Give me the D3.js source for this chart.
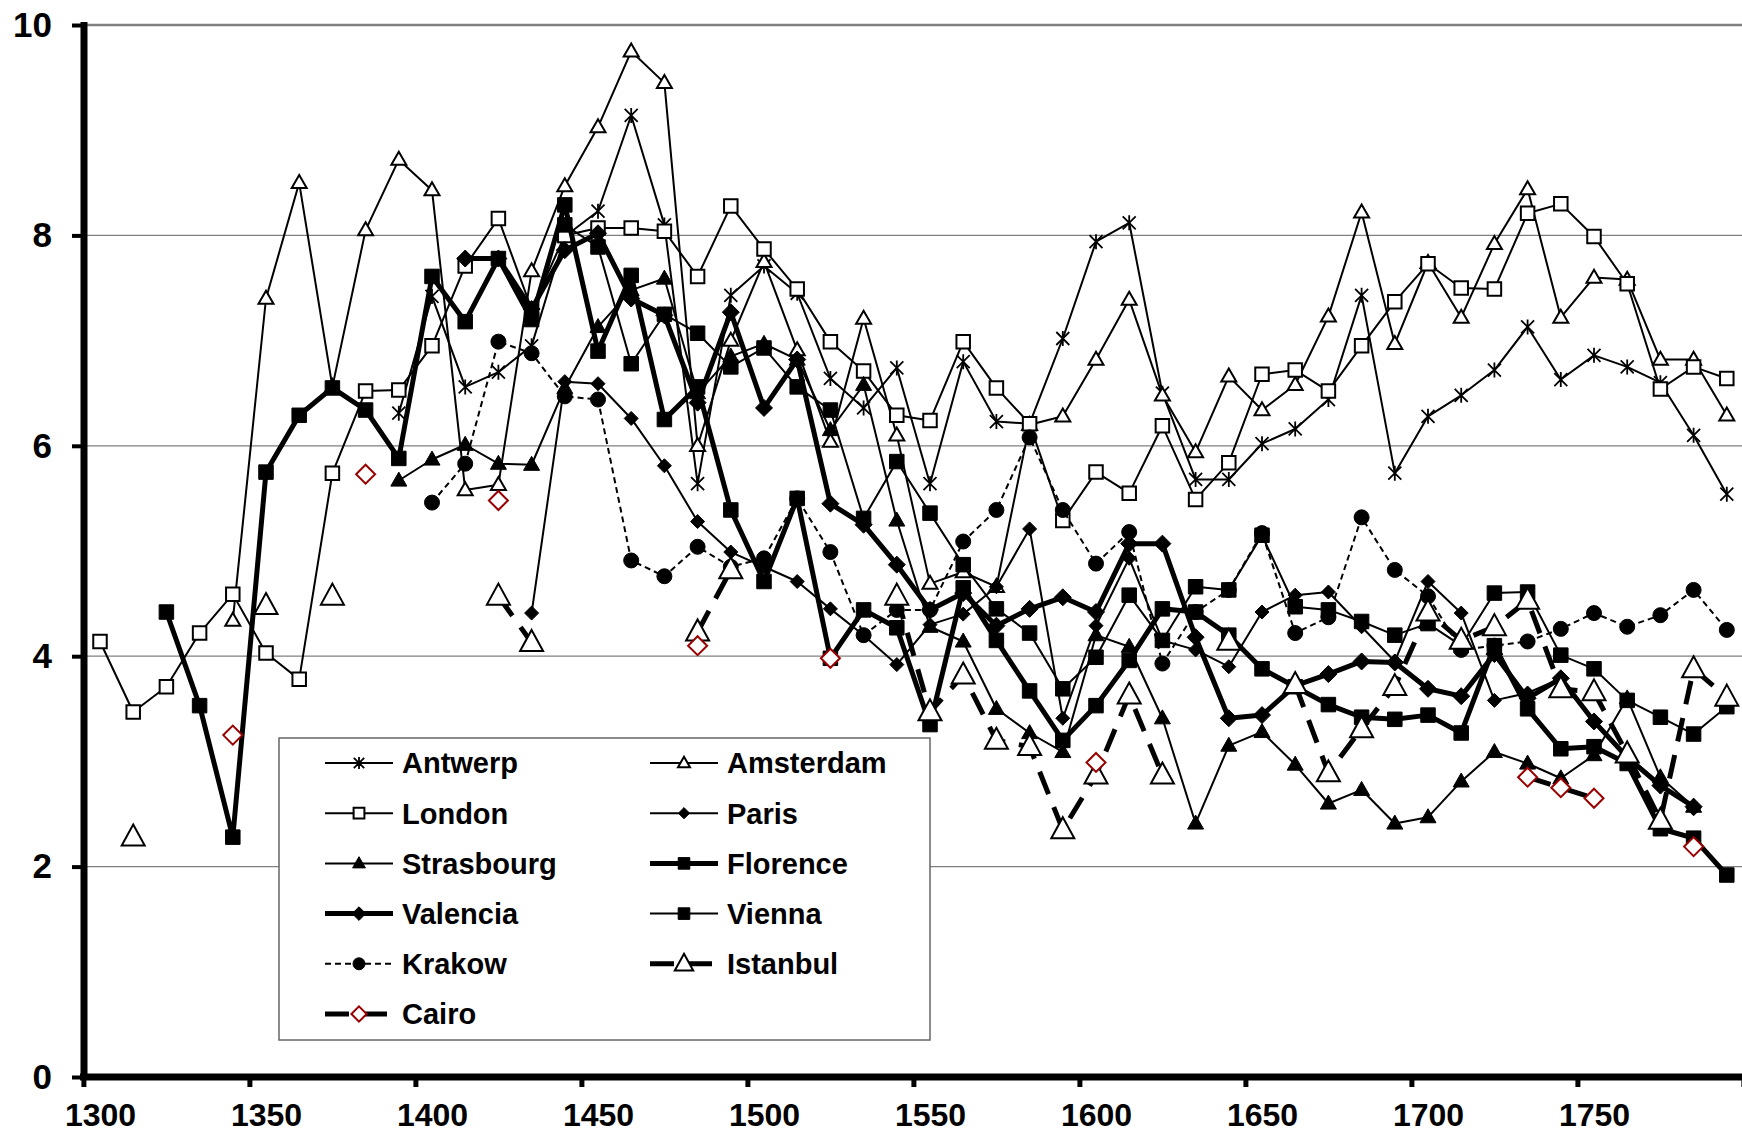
<!DOCTYPE html>
<html><head><meta charset="utf-8">
<script src="https://cdn.jsdelivr.net/npm/d3@7"></script>
<style>body{margin:0;background:#fff}svg{display:block}</style>
</head><body>
<svg id="chart" width="1742" height="1132"></svg>
<script>
// ---------- DATA ----------
const years = [1305,1315,1325,1335,1345,1355,1365,1375,1385,1395,1405,1415,1425,1435,1445,1455,1465,1475,1485,1495,
  1505,1515,1525,1535,1545,1555,1565,1575,1585,1595,1605,1615,1625,1635,1645,1655,1665,1675,1685,1695,
  1705,1715,1725,1735,1745,1755,1765,1775,1785,1795];
const xTicks = [1300,1350,1400,1450,1500,1550,1600,1650,1700,1750,1800];
const xTickLabels = ["1300","1350","1400","1450","1500","1550","1600","1650","1700","1750",""];
const yTicks = [0,2,4,6,8,10];
const N = null;

const antwerp = [N,N,N,N,N,N,N,N,N,6.31, 7.42,6.56,6.70,6.95,7.99,8.23,9.14,8.10,5.64,7.43,
  7.71,7.45,6.64,6.36,6.74,5.64,6.80,6.23,6.21,7.02, 7.94,8.12,6.50,5.68,5.68,6.02,6.16,6.44,7.43,5.74,
  6.28,6.48,6.72,7.13,6.63,6.86,6.75,6.60,6.10,5.54];
const amsterdam = [N,N,N,N,4.34,7.40,8.50,6.56,8.05,8.72, 8.43,5.58,5.63,7.66,8.47,9.03,9.75,9.45,6.00,7.00,
  7.75,6.91,6.04,7.21,6.10,4.69,4.80,4.66,6.20,6.28, 6.82,7.39,6.48,5.94,6.66,6.34,6.58,7.23,8.22,6.97,
  7.74,7.22,7.92,8.44,7.22,7.60,7.58,6.82,6.82,6.29];
const london = [4.14,3.47,3.71,4.22,4.59,4.03,3.78,5.74,6.52,6.53, 6.95,7.71,8.16,7.30,8.00,8.07,8.07,8.04,7.61,8.28,
  7.87,7.49,6.99,6.71,6.29,6.24,6.99,6.55,6.21,5.29, 5.75,5.55,6.19,5.49,5.84,6.68,6.72,6.52,6.95,7.37,
  7.73,7.50,7.49,8.21,8.30,7.99,7.54,6.54,6.75,6.64];
const paris = [N,N,N,N,N,N,N,N,N,N, N,N,N,4.41,6.61,6.59,6.26,5.81,5.28,4.99,
  4.85,4.71,4.45,4.20,3.92,4.30,4.40,4.66,5.21,3.41, 4.29,4.93,4.15,4.06,3.90,4.42,4.58,4.61,4.28,3.95,
  4.71,4.41,3.58,3.65,3.79,3.38,3.05,2.79,2.55,N];
const strasbourg = [N,N,N,N,N,N,N,N,N,5.67, 5.87,6.01,5.83,5.82,6.55,7.13,7.48,7.59,6.50,6.85,
  6.97,6.82,6.15,6.58,5.29,4.28,4.14,3.50,3.27,3.09, 4.20,4.09,3.41,2.41,3.15,3.28,2.97,2.60,2.73,2.41,
  2.47,2.81,3.09,2.98,2.84,3.06,3.60,2.85,2.57,N];
const florence = [N,N,4.42,3.53,2.28,5.75,6.29,6.55,6.34,5.88, 7.61,7.18,7.78,7.20,8.29,6.90,7.62,6.25,6.56,5.39,
  4.71,5.50,3.98,4.44,4.27,3.35,4.65,4.15,3.67,3.20, 3.53,3.96,4.45,4.42,4.20,3.88,3.71,3.54,3.42,3.40,
  3.44,3.27,4.10,3.50,3.12,3.14,2.98,2.36,2.27,1.92];
const valencia = [N,N,N,N,N,N,N,N,N,N, N,7.78,7.78,7.30,7.86,8.02,7.40,7.24,6.41,7.27,
  6.36,6.82,5.45,5.25,4.87,4.44,4.60,4.29,4.45,4.56, 4.42,5.07,5.07,4.18,3.41,3.44,3.72,3.83,3.95,3.94,
  3.69,3.62,4.02,3.60,3.79,3.38,3.04,2.77,2.57,N];
const vienna = [N,N,N,N,N,N,N,N,N,N, N,N,N,N,8.10,7.89,6.78,7.25,7.07,6.75,
  6.93,6.56,6.34,5.31,5.85,5.36,4.87,4.45,4.22,3.69, 3.99,4.58,4.15,4.66,4.63,5.15,4.47,4.44,4.33,4.20,
  4.31,4.10,4.60,4.61,4.01,3.88,3.58,3.42,3.26,3.52];
const krakow = [N,N,N,N,N,N,N,N,N,N, 5.46,5.83,6.99,6.88,6.47,6.44,4.91,4.76,5.04,4.85,
  4.93,5.50,4.99,4.20,4.44,4.44,5.09,5.39,6.08,5.39, 4.88,5.18,3.93,4.42,4.63,5.17,4.22,4.37,5.32,4.82,
  4.57,4.06,4.10,4.14,4.26,4.41,4.28,4.39,4.63,4.25];
const istanbul = [N,2.28,N,N,N,4.48,N,4.57,N,N, N,N,4.57,4.13,N,N,N,N,4.23,4.82,
  N,N,N,N,4.57,3.47,3.82,3.20,3.14,2.35, 2.87,3.63,2.87,N,4.14,N,3.73,2.89,3.31,3.71,
  4.42,4.15,4.28,4.53,3.69,3.66,3.07,2.44,3.88,3.61];
const cairo = [N,N,N,N,3.25,N,N,N,5.73,N, N,N,5.48,N,N,N,N,N,4.10,N,
  N,N,3.98,N,N,N,N,N,N,N, 2.99,N,N,N,N,N,N,N,N,N,
  N,N,N,2.85,2.75,2.65,N,N,2.19,N];

// ---------- MARKERS ----------
const sq = s => `M${-s/2},${-s/2}h${s}v${s}h${-s}Z`;
const dia = w => `M0,${-w/2}L${w/2},0L0,${w/2}L${-w/2},0Z`;
const tri = (w,h) => `M0,${-h*0.6}L${w/2},${h*0.4}L${-w/2},${h*0.4}Z`;
const circ = r => `M${r},0A${r},${r} 0 1,1 ${-r},0A${r},${r} 0 1,1 ${r},0Z`;
const star = s => `M${-s},${-s}L${s},${s}M${-s},${s}L${s},${-s}M0,${-s-1}L0,${s+1}`;

const series = [
  {name:"Antwerp",   data:antwerp,   w:2,   dash:null,    m:star(6.5),   fill:"none",  stroke:"#000", mw:1.8},
  {name:"Amsterdam", data:amsterdam, w:2,   dash:null,    m:tri(15,13),  fill:"#fff",  stroke:"#000", mw:2},
  {name:"London",    data:london,    w:2,   dash:null,    m:sq(13.5),    fill:"#fff",  stroke:"#000", mw:2},
  {name:"Paris",     data:paris,     w:2,   dash:null,    m:dia(14),     fill:"#000",  stroke:"#000", mw:1},
  {name:"Strasbourg",data:strasbourg,w:2,   dash:null,    m:tri(16,14),  fill:"#000",  stroke:"#000", mw:1},
  {name:"Florence",  data:florence,  w:5,   dash:null,    m:sq(14.5),    fill:"#000",  stroke:"#000", mw:1},
  {name:"Valencia",  data:valencia,  w:5,   dash:null,    m:dia(17),     fill:"#000",  stroke:"#000", mw:1},
  {name:"Vienna",    data:vienna,    w:2,   dash:null,    m:sq(14.5),    fill:"#000",  stroke:"#000", mw:1},
  {name:"Krakow",    data:krakow,    w:2,   dash:"6,4",   m:circ(7.5),   fill:"#000",  stroke:"#000", mw:1},
  {name:"Istanbul",  data:istanbul,  w:5,   dash:"24,14", m:tri(23,21),  fill:"#fff",  stroke:"#000", mw:2},
  {name:"Cairo",     data:cairo,     w:5,   dash:"24,14", m:dia(19),     fill:"#fff",  stroke:"#990000", mw:2}
];

// ---------- SCALES ----------
const svg = d3.select("#chart");
const x = d3.scaleLinear().domain([1300,1800]).range([83.4,1743.4]);
const y = d3.scaleLinear().domain([0,10]).range([1077,25]);
const FONT = "'Liberation Sans', Arial, sans-serif";

// gridlines
svg.append("g").selectAll("line").data([2,4,6,8,10]).join("line")
  .attr("x1",84).attr("x2",1742).attr("y1",d=>y(d)).attr("y2",d=>y(d))
  .attr("stroke","#808080").attr("stroke-width",d=>d===10?2.5:1.3);

// series
const line = d3.line().defined(d=>d.v!=null).x(d=>x(d.yr)).y(d=>y(d.v));
const plot = svg.append("g");
series.forEach(s=>{
  const pts = years.map((yr,i)=>({yr, v:s.data[i]}));
  const g = plot.append("g");
  g.append("path").datum(pts).attr("d",line).attr("fill","none")
    .attr("stroke","#000").attr("stroke-width",s.w)
    .attr("stroke-dasharray",s.dash).attr("stroke-linejoin","round");
  g.selectAll("path.m").data(pts.filter(d=>d.v!=null)).join("path").attr("class","m")
    .attr("transform",d=>`translate(${x(d.yr)},${y(d.v)})`)
    .attr("d",s.m).attr("fill",s.fill).attr("stroke",s.stroke).attr("stroke-width",s.mw);
});

// axes
const yAxis = d3.axisLeft(y).tickValues(yTicks).tickSize(12).tickSizeOuter(0).tickPadding(20);
const gy = svg.append("g").attr("transform","translate(84,0)").call(yAxis);
gy.select(".domain").remove();
gy.selectAll(".tick line").attr("stroke","#000").attr("stroke-width",4);
gy.selectAll(".tick text").attr("font-family",FONT).attr("font-weight","bold")
  .attr("font-size",35).attr("fill","#000");

const xAxis = d3.axisBottom(x).tickValues(xTicks).tickSize(10).tickSizeOuter(0)
  .tickFormat((d,i)=>xTickLabels[i]);
const gx = svg.append("g").attr("transform","translate(0,1077)").call(xAxis);
gx.select(".domain").remove();
gx.selectAll(".tick line").attr("stroke","#000").attr("stroke-width",5);
gx.selectAll(".tick text").attr("font-family",FONT).attr("font-weight","bold")
  .attr("font-size",32).attr("fill","#000").attr("x",16.6).attr("y",49).attr("dy",0);

svg.append("line").attr("x1",84).attr("x2",84).attr("y1",22).attr("y2",1080)
  .attr("stroke","#000").attr("stroke-width",7);
svg.append("line").attr("x1",80).attr("x2",1742).attr("y1",1077).attr("y2",1077)
  .attr("stroke","#000").attr("stroke-width",7);

// legend
const leg = svg.append("g");
leg.append("rect").attr("x",279).attr("y",738).attr("width",651).attr("height",302)
  .attr("fill","#fff").attr("stroke","#666").attr("stroke-width",1.5);
series.forEach((s,i)=>{
  const col = i%2, row = Math.floor(i/2);
  const lx = col===0 ? 325 : 650, cy = 763 + row*50.2;
  const g = leg.append("g");
  g.append("line").attr("x1",lx).attr("x2",lx+68).attr("y1",cy).attr("y2",cy)
    .attr("stroke","#000").attr("stroke-width",s.w).attr("stroke-dasharray",s.dash);
  g.append("path").attr("transform",`translate(${lx+34},${cy}) scale(0.8)`)
    .attr("d",s.m).attr("fill",s.fill).attr("stroke",s.stroke).attr("stroke-width",s.mw/0.8);
  g.append("text").attr("x",lx+77).attr("y",cy).attr("dy","0.36em")
    .attr("font-family",FONT).attr("font-weight","bold").attr("font-size",29).text(s.name);
});
</script>
</body></html>
